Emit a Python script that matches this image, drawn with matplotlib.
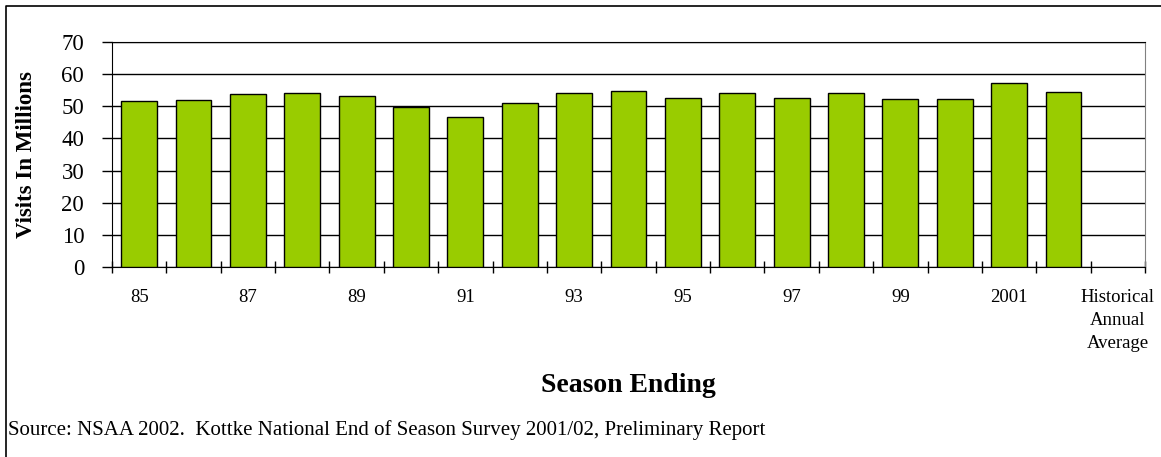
import matplotlib.pyplot as plt
from matplotlib.lines import Line2D
import numpy as np

plt.rcParams['font.family'] = ['Liberation Serif', 'DejaVu Serif']

seasons = ['85', '86', '87', '88', '89', '90', '91', '92', '93', '94',
           '95', '96', '97', '98', '99', '2000', '2001', '2002',
           'Historical\nAnnual\nAverage']
visits = [51.5, 51.9, 53.7, 54.1, 53.3, 49.9, 46.8, 50.9, 54.1, 54.7,
          52.7, 54.1, 52.5, 54.2, 52.2, 52.2, 57.4, 54.4, np.nan]
shown_labels = ['85', '', '87', '', '89', '', '91', '', '93', '', '95', '',
                '97', '', '99', '', '2001', '', 'Historical\nAnnual\nAverage']

fig = plt.figure(figsize=(11.61, 4.57), dpi=100)
ax = fig.add_axes([112/1161, 1 - 267/457, (1145-112)/1161, (267-42)/457])

x = np.arange(len(seasons))
ax.bar(x, visits, width=0.66, color='#99cc00', edgecolor='black', linewidth=1, zorder=3)

ax.set_xlim(-0.5, len(seasons) - 0.5)
ax.set_ylim(0, 70)
ax.set_yticks(range(0, 71, 10))
ax.yaxis.grid(True, color='black', linewidth=1, zorder=0)

# ticks sit between categories, labels under the categories
ax.set_xticks(np.arange(-0.5, len(seasons), 1))
ax.set_xticklabels([])
ax.set_xticks(x, minor=True)
ax.set_xticklabels(shown_labels, minor=True, fontsize=13.5, linespacing=1.45, va='top')
ax.tick_params(axis='x', which='major', direction='inout', length=9, width=1)
ax.tick_params(axis='x', which='minor', length=0, pad=16)
ax.tick_params(axis='y', direction='out', length=7, width=1, labelsize=16.5, pad=13)

for s in ['left', 'bottom', 'top']:
    ax.spines[s].set_color('black')
ax.spines['right'].set_color('#808080')

ax.set_ylabel('Visits In Millions', fontsize=16.5, fontweight='bold')
ax.yaxis.set_label_coords(-(112-37)/(1145-112), 0.5)

fig.text(628/1161, 1 - 386/457, 'Season Ending', fontsize=20, fontweight='bold',
         ha='center', va='center')
fig.text(8/1161, 1 - 430/457, 'Source: NSAA 2002.  Kottke National End of Season Survey 2001/02, Preliminary Report',
         fontsize=15, ha='left', va='center')

# frame around the figure (left and top edges)
fig.add_artist(Line2D([6/1161, 6/1161, 1], [0, 1 - 6/457, 1 - 6/457],
                      transform=fig.transFigure, color='black', linewidth=1.2))

fig.savefig('out.png', dpi=100)
